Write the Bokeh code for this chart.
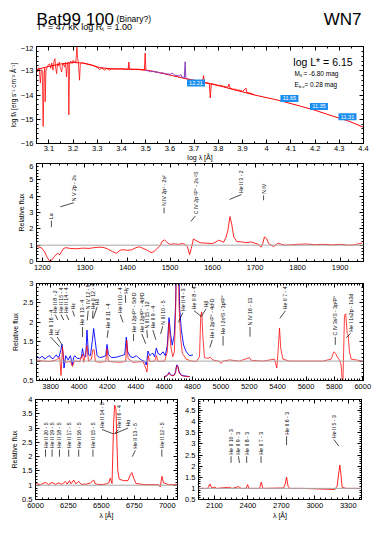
from math import pi
from bokeh.plotting import figure
from bokeh.models import (Range1d, LinearAxis, SingleIntervalTicker, Span, Label,
                          ColumnDataSource, CustomJSTickFormatter, Spacer)
from bokeh.layouts import column, row
from bokeh.embed import file_html
from bokeh.resources import INLINE
from bokeh.core.properties import value

# ---------------- data: panel 1 (SED) ----------------
sed_mod_logl = [3.049, 3.10, 3.15, 3.20, 3.24, 3.28, 3.31, 3.36, 3.42, 3.475, 3.52, 3.557, 3.61,
                3.667, 3.72, 3.778, 3.82, 3.86, 3.90, 3.95, 4.05, 4.136, 4.20, 4.273, 4.34, 4.40]
sed_mod_logf = [-12.95, -12.82, -12.72, -12.66, -12.68, -12.78, -12.87, -12.92, -12.93, -12.94, -13.00,
                -13.08, -13.20, -13.33, -13.45, -13.56, -13.66, -13.77, -13.87, -14.00, -14.22, -14.45,
                -14.63, -14.87, -15.08, -15.33]
sed_sw_logl = [3.049, 3.053, 3.057, 3.061, 3.065, 3.069, 3.073, 3.0765, 3.080, 3.083,
               3.085, 3.088, 3.093, 3.098, 3.103, 3.108, 3.112, 3.117, 3.121, 3.125,
               3.128, 3.132, 3.136, 3.140, 3.143, 3.148, 3.153, 3.157, 3.160, 3.165,
               3.169, 3.173, 3.177, 3.180, 3.1826, 3.186, 3.191, 3.196, 3.200, 3.205,
               3.209, 3.212, 3.214, 3.216, 3.219, 3.222, 3.2268, 3.230, 3.235, 3.2405]
sed_sw_logf = [-12.92, -13.05, -12.88, -12.98, -13.50, -12.95, -13.00, -15.30, -13.10, -12.90,
               -14.28, -13.00, -12.85, -12.75, -12.72, -12.90, -12.68, -12.98, -12.62, -12.50,
               -12.85, -13.12, -12.70, -12.80, -12.64, -12.90, -13.05, -12.70, -12.71, -12.85,
               -12.66, -13.26, -12.70, -12.64, -14.82, -12.66, -12.60, -12.70, -12.57, -12.65,
               -12.60, -12.64, -12.30, -12.02, -12.50, -12.65, -13.39, -12.72, -12.70, -12.68]
sed_lw_logl = [3.2405, 3.26, 3.28, 3.30, 3.31, 3.32, 3.33, 3.34, 3.35, 3.36,
               3.38, 3.40, 3.42, 3.428, 3.4305, 3.433, 3.45, 3.47, 3.49, 3.495,
               3.498, 3.501]
sed_lw_logf = [-12.68, -12.72, -12.77, -12.86, -12.95, -12.88, -12.98, -12.90, -12.97, -12.92,
               -12.93, -12.92, -12.95, -12.93, -12.64, -12.94, -12.95, -12.95, -12.97, -12.97,
               -12.27, -12.98]
sed_opt_logl = [3.50, 3.51, 3.52, 3.53, 3.54, 3.55, 3.56, 3.57, 3.58, 3.59,
                3.60, 3.61, 3.62, 3.63, 3.64, 3.645, 3.65, 3.66, 3.663, 3.666, 3.67]
sed_opt_logf = [-12.99, -13.00, -13.04, -13.02, -13.06, -13.05, -13.10, -13.08, -13.12, -13.13,
                -13.15, -13.10, -13.18, -13.20, -13.22, -13.15, -13.26, -13.28, -12.63, -13.30, -13.33]
sed_red_logl = [3.67, 3.69, 3.71, 3.72, 3.735, 3.739, 3.743, 3.755, 3.763, 3.767,
                3.771, 3.79, 3.80, 3.81, 3.82, 3.83, 3.84, 3.844, 3.848, 3.86,
                3.87, 3.88, 3.89, 3.90, 3.915, 3.918, 3.93, 3.94, 3.95]
sed_red_logf = [-13.33, -13.37, -13.41, -13.43, -13.46, -13.20, -13.48, -13.50, -13.52, -14.12,
                -13.53, -13.58, -13.60, -13.60, -13.64, -13.66, -13.68, -13.55, -13.70, -13.76,
                -13.76, -13.80, -13.80, -13.85, -13.72, -13.90, -13.92, -13.95, -14.00]
phot_logl = [3.708, 4.094, 4.216, 4.334]
phot_logf = [-13.50, -14.14, -14.47, -14.90]
phot_mag = ["12.21", "11.65", "11.35", "11.31"]

# ---------------- data: panel 2 (UV) ----------------
uv_wave = [1186, 1197, 1205, 1210, 1217, 1222, 1228, 1235, 1241, 1249,
           1255, 1265, 1280, 1295, 1310, 1322, 1335, 1345, 1355, 1365,
           1374, 1383, 1392, 1400, 1410, 1420, 1428, 1437, 1447, 1455,
           1462, 1470, 1476, 1482, 1487, 1492, 1499, 1510, 1520, 1530,
           1535, 1541, 1546, 1550, 1555, 1560, 1571, 1585, 1600, 1608,
           1614, 1620, 1626, 1632, 1636, 1641, 1645, 1650, 1657, 1668,
           1680, 1690, 1700, 1708, 1714, 1718, 1722, 1727, 1732, 1738,
           1744, 1750, 1755, 1762, 1770, 1785, 1800, 1820, 1840, 1860,
           1880, 1900, 1920, 1935, 1945, 1952]
uv_flux = [0.92, 0.85, 0.60, 0.30, 0.02, 0.10, 0.30, 0.50, 0.42, 0.78,
           0.85, 0.80, 0.78, 0.82, 0.80, 0.85, 0.88, 0.85, 0.75, 0.60,
           0.50, 0.70, 0.72, 0.68, 0.72, 0.85, 0.90, 0.80, 0.68, 0.55,
           0.60, 0.80, 0.95, 1.25, 1.32, 1.20, 1.05, 1.08, 1.05, 1.10,
           1.05, 0.90, 0.42, 0.80, 1.38, 1.30, 1.15, 1.12, 1.10, 1.20,
           1.30, 1.25, 1.18, 1.50, 1.90, 2.75, 2.30, 1.50, 1.22, 1.20,
           1.15, 1.20, 1.12, 1.05, 0.88, 1.10, 1.50, 1.40, 1.10, 1.00,
           0.92, 1.05, 1.12, 1.05, 1.00, 1.02, 1.05, 1.07, 1.03, 1.05,
           1.02, 1.05, 1.00, 1.02, 1.10, 1.12]
uv_lab_text = ["Lα", "N V 2p - 2s", "N IV 2p¹ - 2s²", "C IV 2p ²P° - 2s ²S", "He II 3 - 2", "N IV"]
uv_lab_x = [1221, 1274, 1486, 1560, 1668, 1720]
uv_lab_y = [2.5, 3.6, 3.3, 2.8, 4.1, 4.05]
uv_line_x = [1221, 1242, 1486, 1549, 1640, 1720]
uv_line_y = [2.1, 3.35, 2.95, 2.45, 3.8, 3.75]

# ---------------- data: panel 3 (optical) ----------------
opt_obs_wave = [3700, 3712, 3723, 3735, 3747, 3758, 3770, 3782, 3794, 3805,
                3817, 3829, 3840, 3850, 3859, 3871, 3880, 3887, 3894, 3906,
                3923, 3939, 3953, 3962, 3970, 3986, 4005, 4016, 4024, 4033,
                4047, 4056, 4066, 4080, 4094, 4103, 4113, 4127, 4146, 4169,
                4188, 4197, 4207, 4228, 4263, 4298, 4322, 4333, 4343, 4362,
                4380, 4404, 4420, 4439, 4463, 4474, 4486, 4498, 4510, 4521,
                4533, 4545, 4556, 4573, 4592, 4608, 4622, 4634, 4646, 4657,
                4671, 4681, 4690, 4700, 4709, 4721, 4737, 4756, 4779, 4803]
opt_obs_flux = [1.14, 1.10, 1.07, 1.12, 1.11, 1.05, 1.09, 1.12, 1.14, 1.08,
                1.06, 1.12, 1.16, 1.10, 1.11, 1.28, 1.43, 1.19, 0.82, 1.14,
                1.03, 1.14, 0.90, 1.10, 1.14, 1.07, 1.07, 1.10, 1.32, 1.14,
                1.11, 1.80, 1.17, 1.14, 1.54, 1.84, 1.54, 1.14, 1.09, 1.11,
                1.14, 1.43, 1.17, 1.09, 1.10, 1.14, 1.17, 1.62, 1.24, 1.11,
                1.09, 1.14, 1.08, 1.03, 0.99, 0.90, 1.26, 1.14, 1.18, 1.20,
                1.11, 1.34, 1.20, 1.16, 1.24, 1.14, 1.41, 2.12, 1.67, 1.41,
                1.67, 2.52, 4.50, 4.50, 2.35, 1.80, 1.41, 1.24, 1.14, 1.16]
opt_mod_wave = [3700, 3747, 3794, 3840, 3864, 3873, 3883, 3892, 3911, 3939,
                3953, 3967, 4005, 4024, 4033, 4056, 4066, 4087, 4097, 4106,
                4115, 4146, 4188, 4197, 4207, 4286, 4329, 4336, 4345, 4380,
                4451, 4470, 4479, 4488, 4498, 4533, 4545, 4556, 4603, 4622,
                4634, 4646, 4660, 4672, 4681, 4690, 4697, 4704, 4714, 4728,
                4756, 4791, 4826, 4849, 4858, 4865, 4872, 4884, 4908, 4924,
                4943, 4990, 5002, 5014, 5061, 5131, 5202, 5213, 5296, 5378,
                5394, 5404, 5413, 5422, 5437, 5484, 5601, 5718, 5777, 5796,
                5808, 5819, 5836, 5847, 5859, 5871, 5880, 5890, 5897, 5906,
                5918, 5953, 6000, 6010]
opt_mod_flux = [1.03, 1.00, 0.99, 1.03, 1.09, 0.63, 1.37, 1.03, 0.97, 1.00,
                0.86, 1.00, 0.99, 1.17, 0.97, 1.40, 1.00, 1.05, 1.29, 1.29,
                0.99, 0.97, 0.99, 1.32, 0.99, 0.97, 0.99, 1.54, 1.07, 0.97,
                0.99, 0.82, 0.72, 1.14, 0.99, 1.00, 1.14, 0.99, 1.00, 1.24,
                2.00, 1.41, 1.11, 1.24, 2.35, 4.50, 4.50, 2.52, 1.67, 1.20,
                1.05, 1.00, 0.99, 1.11, 2.18, 2.27, 1.67, 1.09, 1.07, 1.10,
                1.03, 0.99, 0.94, 1.00, 1.03, 1.00, 1.09, 1.02, 1.00, 1.05,
                0.82, 1.32, 1.85, 1.32, 1.05, 1.00, 1.00, 1.00, 1.05, 1.24,
                1.20, 1.11, 1.03, 0.90, 0.30, 2.18, 2.22, 1.71, 1.67, 1.24,
                1.05, 1.03, 1.00, 1.00]
ins_wave = [4600, 4615, 4625, 4634, 4642, 4655, 4670, 4680, 4688, 4696, 4705, 4720, 4740, 4760, 4780]
ins_mod = [0.60, 0.61, 0.64, 0.69, 0.65, 0.62, 0.63, 0.70, 0.88, 0.86, 0.70, 0.63, 0.61, 0.60, 0.60]
ins_obs = [0.60, 0.62, 0.65, 0.71, 0.66, 0.63, 0.64, 0.72, 0.90, 0.88, 0.72, 0.64, 0.62, 0.61, 0.60]
opt_lab_text = ["He II 16 - 4", "Hζ", "He II 8 - 2", "He II 15 - 4", "He II 14 - 4", "Hε",
                "He II 13 - 4", "N IV 12 - 9", "He II 12 - 4", "Hδ", "He II 11 - 4", "He II 10 - 4", "Hγ",
                "He I 2p¹P° - 5d¹D", "He I 2p³P° - 4d³D", "N III 15 - 12", "He II 9 - 4", "N III 10 - 5",
                "He II 4 - 3", "He II 8 - 4", "Hβ", "He I 2p¹P° - 4d¹D", "He I 2s³S - 3p³P°", "N IV 16 - 13",
                "He II 7 - 4", "C IV 3s²S - 3p²P°", "He I 1s2p - 1s3d"]
opt_lab_x = [3800, 3846, 3832, 3872, 3910, 3955, 4024, 4064, 4098, 4128,
             4205, 4290, 4328, 4384, 4442, 4478, 4520, 4590, 4732, 4810,
             4896, 4939, 5015, 5205, 5455, 5806, 5915]
opt_lab_y = [1.62, 1.62, 2.2, 2.2, 2.2, 2.3, 1.88, 2.3, 2.3, 2.4,
             1.8, 2.2, 2.7, 1.7, 1.7, 1.8, 1.8, 1.9, 2.25, 2.3,
             2.35, 1.55, 1.65, 1.88, 2.3, 1.62, 1.72]
opt_line_x = [3862, 3882, 3850, 3892, 3928, 3968, 4024, 4058, 4095, 4100,
              4198, 4310, 4328, 4384, 4470, 4482, 4541, 4575, 4700, 4862,
              4862, 4922, 5015, 5205, 5415, 5806, 5882]
opt_line_y = [1.37, 1.41, 2.06, 2.06, 2.06, 2.15, 1.62, 2.05, 2.1, 2.1,
              1.6, 2.0, 2.5, 1.52, 1.45, 1.6, 1.55, 1.7, 2.0, 2.15,
              2.15, 1.35, 1.4, 1.63, 2.1, 1.42, 1.6]

# ---------------- data: panel 4a (red) ----------------
ha_wave = [6000, 6038, 6076, 6100, 6126, 6150, 6177, 6200, 6227, 6240,
           6258, 6270, 6290, 6305, 6328, 6348, 6390, 6417, 6442, 6455,
           6505, 6540, 6556, 6568, 6581, 6593, 6601, 6611, 6618, 6625,
           6636, 6669, 6702, 6720, 6732, 6745, 6763, 6833, 6934, 6947,
           6960, 6972, 7010, 7078]
ha_flux = [1.06, 1.02, 1.10, 1.02, 1.10, 1.03, 1.08, 1.03, 1.13, 1.04,
           1.16, 1.05, 1.18, 1.05, 1.13, 1.03, 1.04, 1.08, 1.18, 1.04,
           1.02, 1.05, 1.08, 1.25, 1.06, 3.20, 3.80, 3.66, 2.50, 1.50,
           1.21, 1.16, 1.16, 1.36, 1.44, 1.25, 1.06, 1.02, 1.02, 0.94,
           1.31, 1.08, 1.02, 1.02]
ha_lab_text = ["He II 20 - 5", "He II 19 - 5", "He II 18 - 5", "He II 17 - 5", "He II 16 - 5",
               "He II 15 - 5", "He II 14 - 5", "He II 6 - 4", "Hα", "He II 13 - 5", "He II 12 - 5"]
ha_lab_x = [6076, 6126, 6182, 6252, 6328, 6436, 6505, 6631, 6702, 6758, 6959]
ha_lab_y = [2.25, 2.25, 2.25, 2.25, 2.25, 2.25, 2.95, 2.95, 3.0, 2.22, 2.25]
ha_line_x = [6076, 6126, 6182, 6252, 6328, 6436, 6590, 6600, 6600, 6735, 6959]
ha_line_y = [2.0, 2.0, 2.0, 2.0, 2.0, 2.0, 2.8, 2.8, 2.8, 2.0, 2.0]

# ---------------- data: panel 4b (near UV) ----------------
nuv_wave = [1957, 2040, 2060, 2075, 2105, 2120, 2227, 2260, 2316, 2340,
            2385, 2397, 2410, 2505, 2520, 2535, 2720, 2735, 2747, 2760,
            2775, 2900, 3000, 3180, 3200, 3215, 3225, 3235, 3245, 3280, 3419]
nuv_flux = [1.00, 1.00, 1.20, 1.02, 1.06, 1.00, 1.05, 1.00, 1.08, 1.00,
            1.00, 1.17, 1.00, 1.00, 1.28, 1.00, 1.02, 1.20, 1.51, 1.10,
            1.00, 1.00, 0.98, 0.95, 1.10, 1.70, 2.05, 1.60, 1.05, 1.00, 1.00]
nuv_lab_text = ["He II 10 - 3", "He II 9 - 3", "He II 8 - 3", "He II 7 - 3", "He II 6 - 3", "He II 5 - 3"]
nuv_lab_x = [2249, 2315, 2389, 2518, 2747, 3172]
nuv_lab_y = [2.45, 2.45, 2.45, 2.45, 3.35, 3.2]
nuv_line_x = [2249, 2325, 2389, 2518, 2747, 3215]
nuv_line_y = [2.15, 2.15, 2.15, 2.15, 2.95, 2.9]

# ---------------- header texts ----------------
star_name = "Bat99 100"
star_note = "(Binary?)"
star_type = "WN7"
star_params = "T* =  47 kK   log Rₜ = 1.00"

FONT = "Liberation Sans"
RED = "#ff0000"
BLUE = "#0000ff"
PURPLE = "#8a3fc0"
GREY = "#a8a8a8"
PHOT = "#1c8ef0"


def style(ax, interval, minor, labels=True):
    ax.ticker = SingleIntervalTicker(interval=interval, num_minor_ticks=minor)
    ax.major_tick_in = 4
    ax.major_tick_out = 0
    ax.minor_tick_in = 2
    ax.minor_tick_out = 0
    ax.axis_line_color = "black"
    ax.major_tick_line_color = "black"
    ax.minor_tick_line_color = "black"
    ax.major_label_text_font = FONT
    ax.major_label_text_color = "black"
    ax.major_label_text_font_size = "7.5px"
    ax.axis_label_text_font = FONT
    ax.axis_label_text_font_size = "7px"
    ax.axis_label_text_font_style = "normal"
    ax.axis_label_text_color = "black"
    ax.axis_label_standoff = 1
    if labels:
        ax.major_label_standoff = 3
    else:
        ax.formatter = CustomJSTickFormatter(code="return ''")
        ax.major_label_standoff = 0


def make(fw, fh, xr, yr, xt, yt, borders, xlabel=None, ylabel=None):
    bl, br, bt, bb = borders
    p = figure(frame_width=fw, frame_height=fh, x_range=Range1d(*xr), y_range=Range1d(*yr),
               output_backend="svg", toolbar_location=None,
               min_border_left=bl, min_border_right=br, min_border_top=bt, min_border_bottom=bb)
    p.xgrid.visible = False
    p.ygrid.visible = False
    p.outline_line_color = "black"
    p.background_fill_color = "white"
    p.border_fill_color = "white"
    style(p.below[0], *xt)
    style(p.left[0], *yt)
    if xlabel:
        p.below[0].axis_label = xlabel
    if ylabel:
        p.left[0].axis_label = ylabel
    top = LinearAxis()
    style(top, *xt, labels=False)
    p.add_layout(top, "above")
    right = LinearAxis()
    style(right, *yt, labels=False)
    p.add_layout(right, "right")
    return p


def unity(p):
    p.add_layout(Span(location=1.0, dimension="width", line_color=GREY, line_width=1))


def add_ids(p, txt, tx, ty, lx, ly):
    src = ColumnDataSource(dict(t=txt, tx=tx, ty=ty, lx=lx, ly=ly))
    p.segment(x0="lx", y0="ly", x1="tx", y1="ty", source=src, line_color="black", line_width=0.7)
    p.text(x="tx", y="ty", text="t", source=src, angle=pi / 2, text_align="left",
           text_baseline="middle", text_font=value(FONT), text_font_size=value("5.2px"),
           text_color="black", y_offset=-1.5)


def lab(p, x, y, text, size, align="left", xoff=0):
    p.add_layout(Label(x=x, y=y, text=text, text_font=FONT, text_font_size=size,
                       text_align=align, text_baseline="alphabetic", text_color="black",
                       x_offset=xoff))


def htext(p, x, y, text, size, align="left"):
    p.text(x=[x], y=[y], text=[text], text_font=value(FONT), text_font_size=value(size),
           text_align=align, text_baseline="alphabetic", text_color="black")


# ---------------- header (title block) ----------------
head = figure(frame_width=327, frame_height=45, x_range=Range1d(0, 327), y_range=Range1d(0, 45),
              x_axis_type=None, y_axis_type=None, output_backend="svg", toolbar_location=None,
              min_border_left=29, min_border_right=10, min_border_top=0, min_border_bottom=0,
              outline_line_color=None)
head.xgrid.visible = False
head.ygrid.visible = False
htext(head, 0, 26.3, star_name, "17px")
htext(head, 80, 27.0, star_note, "8.5px")
htext(head, 325, 26.3, star_type, "17px", align="right")
htext(head, 0, 18.5, star_params, "9px")

# ---------------- panel 1 ----------------
p1 = make(327, 97, (3.049, 4.40), (-16, -12), (0.1, 2), (1, 5), (29, 10, 1, 20),
          xlabel="log λ [Å]", ylabel="log fλ [erg s⁻¹ cm⁻² Å⁻¹]")
p1.left[0].axis_label_text_font_size = "6.5px"
p1.below[0].axis_label_standoff = 0
p1.below[0].major_label_standoff = 2
p1.line(sed_mod_logl, sed_mod_logf, line_color=RED, line_width=1)
p1.line(sed_sw_logl, sed_sw_logf, line_color=RED, line_width=1, line_alpha=0.75)
p1.line(sed_lw_logl, sed_lw_logf, line_color=RED, line_width=1, line_alpha=0.85)
p1.line(sed_opt_logl, sed_opt_logf, line_color=PURPLE, line_width=1)
p1.line(sed_red_logl, sed_red_logf, line_color=RED, line_width=1, line_alpha=0.85)
p1.rect(x=phot_logl, y=phot_logf, width=18, height=7, width_units="screen",
        height_units="screen", fill_color=PHOT, line_color=None)
p1.text(x=phot_logl, y=phot_logf, text=phot_mag, text_align="center", text_baseline="middle",
        text_font=value(FONT), text_font_size=value("5.5px"), text_color="white")
lab(p1, 4.355, -12.63, "log L* = 6.15", "10.5px", align="right")
lab(p1, 4.115, -13.13, "M", "6.5px")
lab(p1, 4.115, -13.18, "v", "4.5px", xoff=5.5)
lab(p1, 4.115, -13.13, "= -6.80 mag", "6.5px", xoff=9)
lab(p1, 4.115, -13.58, "E", "6.5px")
lab(p1, 4.115, -13.63, "b-v", "4px", xoff=4.5)
lab(p1, 4.115, -13.58, "= 0.28 mag", "6.5px", xoff=10)

# ---------------- panel 2 ----------------
p2 = make(327, 98, (1186, 1955), (0, 6), (100, 5), (1, 5), (29, 10, 0, 11), ylabel="Relative flux")
unity(p2)
p2.line(uv_wave, uv_flux, line_color=RED, line_width=1, line_alpha=0.85)
add_ids(p2, uv_lab_text, uv_lab_x, uv_lab_y, uv_line_x, uv_line_y)

# ---------------- panel 3 ----------------
p3 = make(327, 97, (3700, 6005), (0.5, 3.0), (200, 10), (0.5, 5), (29, 10, 11, 11),
          ylabel="Relative flux")
unity(p3)
p3.line(opt_obs_wave, opt_obs_flux, line_color=BLUE, line_width=1, line_alpha=0.9)
p3.line(opt_mod_wave, opt_mod_flux, line_color=RED, line_width=1, line_alpha=0.75)
p3.line(ins_wave, ins_obs, line_color=BLUE, line_width=1, line_alpha=0.9)
p3.line(ins_wave, ins_mod, line_color=RED, line_width=1, line_alpha=0.75)
add_ids(p3, opt_lab_text, opt_lab_x, opt_lab_y, opt_line_x, opt_line_y)

# ---------------- panel 4a ----------------
p4 = make(142, 100, (6000, 7078), (0.5, 4.0), (250, 5), (0.5, 5), (29, 4, 8, 30),
          xlabel="λ [Å]", ylabel="Relative flux")
unity(p4)
p4.line(ha_wave, ha_flux, line_color=RED, line_width=1, line_alpha=0.85)
add_ids(p4, ha_lab_text, ha_lab_x, ha_lab_y, ha_line_x, ha_line_y)

# ---------------- panel 4b ----------------
p5 = make(163, 100, (1957, 3419), (0.5, 5.0), (300, 6), (0.5, 5), (17, 11, 8, 30), xlabel="λ [Å]")
unity(p5)
p5.line(nuv_wave, nuv_flux, line_color=RED, line_width=1, line_alpha=0.85)
add_ids(p5, nuv_lab_text, nuv_lab_x, nuv_lab_y, nuv_line_x, nuv_line_y)

stack = column(head, p1, p2, p3, row(p4, p5))
layout = row(Spacer(width=6), stack)
open("out.html", "w").write(file_html(layout, INLINE))
